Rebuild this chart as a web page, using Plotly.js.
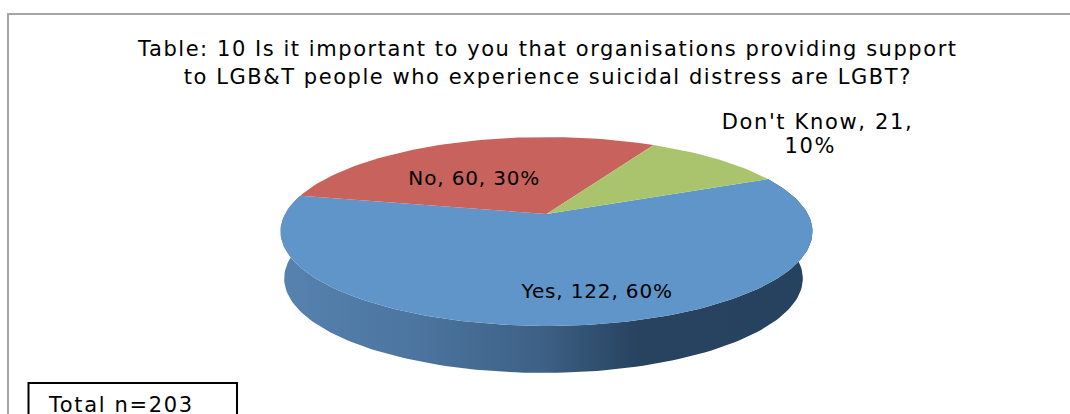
<!DOCTYPE html>
<html>
<head>
<meta charset="utf-8">
<script src="https://cdn.plot.ly/plotly-3.0.1.min.js"></script>
<style>
  html, body { margin: 0; padding: 0; background: #fff; overflow: hidden; }
  #chart { width: 1070px; height: 414px; }
  /* Open tracking for the wide chart lettering */
  #chart .gtitle { letter-spacing: 1.55px; }
  #chart .annotation text { letter-spacing: 1.65px; }
  #chart .annotation[data-index="0"] text,
  #chart .annotation[data-index="1"] text { letter-spacing: 0.85px; }
</style>
</head>
<body>
<div id="chart"></div>
<script>
// Survey responses
const categories = ["Yes", "No", "Don't Know"];
const responses = [122, 60, 21];
const topColors = ["#5F95C9", "#C8625C", "#A9C46C"];
const titleLines = [
  "Table: 10 Is it important to you that organisations providing support",
  "to LGB&T people who experience suicidal distress are LGBT?"
];

// Tilted-disc projection, in the page-sized plot coordinates
const apex = { x: 546.5, y: 214 };
const tilt = { a: 91.2, b: 261.4, k: 0.185 };
const firstAngle = 65.7;
const wall = { depth: 47, shrink: 0.975, shift: -3 };
const STEP = 1.5;

const total = responses.reduce((s, v) => s + v, 0);

function rimPoint(deg) {
  const t = deg * Math.PI / 180;
  const u = Math.sin(t), v = Math.cos(t);
  const w = 1 + tilt.k * v;
  return { x: apex.x + tilt.b * u / w, y: apex.y - tilt.a * v / w };
}

function arc(from, to) {
  const pts = [];
  const n = Math.max(2, Math.ceil((to - from) / STEP));
  for (let i = 0; i <= n; i++) pts.push(rimPoint(from + (to - from) * i / n));
  return pts;
}

// Slice spans follow from the response counts
let cursor = firstAngle;
const spans = responses.map(v => {
  const span = [cursor, cursor + v / total * 360];
  cursor = span[1];
  return span;
});

const traces = [];

// Outer wall of the front slice, shaded from left to right
const front = arc(spans[0][0], spans[0][1]);
const lower = front.slice().reverse().map(p => ({
  x: apex.x + (p.x - apex.x) * wall.shrink + wall.shift,
  y: p.y + wall.depth
}));
const wallPts = front.concat(lower);
traces.push({
  type: "scatter", mode: "lines",
  x: wallPts.map(p => p.x), y: wallPts.map(p => p.y),
  fill: "toself",
  line: { width: 0, color: "rgba(0,0,0,0)" },
  fillgradient: {
    type: "horizontal",
    start: 284, stop: 802,
    colorscale: [
      [0, "#5682B0"], [0.25, "#4C759F"], [0.5, "#3D6085"],
      [0.68, "#274360"], [1, "#26425F"]
    ]
  },
  hoverinfo: "skip"
});

// Top faces of the three slices
categories.forEach((name, i) => {
  const pts = [{ x: apex.x, y: apex.y }]
    .concat(arc(spans[i][0], spans[i][1]))
    .concat([{ x: apex.x, y: apex.y }]);
  traces.push({
    type: "scatter", mode: "lines", name,
    x: pts.map(p => p.x), y: pts.map(p => p.y),
    fill: "toself", fillcolor: topColors[i],
    line: { width: 0, color: topColors[i] },
    hoverinfo: "name"
  });
});

// Data labels: category, count, share of the total
const shares = responses.map(v => Math.round(v / total * 100));
const labelText = categories.map((c, i) => `${c}, ${responses[i]}, ${shares[i]}%`);
const label = (text, x, y, size) => ({
  text, x, y, xref: "x", yref: "y", showarrow: false,
  font: { family: "DejaVu Sans", size, color: "#000" },
  align: "center", xanchor: "center", yanchor: "middle"
});

const layout = {
  width: 1070, height: 414,
  margin: { l: 0, r: 0, t: 0, b: 0 },
  paper_bgcolor: "#fff", plot_bgcolor: "#fff",
  showlegend: false,
  title: {
    text: titleLines.join("<br>"),
    font: { family: "DejaVu Sans", size: 21, color: "#000" },
    xref: "paper", yref: "paper", x: 0.512, xanchor: "center",
    y: 0.864, yanchor: "top"
  },
  xaxis: { range: [0, 1070], visible: false, fixedrange: true },
  yaxis: { range: [414, 0], visible: false, fixedrange: true },
  shapes: [
    { type: "rect", xref: "x", yref: "y", x0: 8, y0: 14, x1: 1090, y1: 430,
      line: { color: "#A6A6A6", width: 2 }, fillcolor: "rgba(0,0,0,0)", layer: "below" },
    { type: "rect", xref: "x", yref: "y", x0: 28.5, y0: 383, x1: 237, y1: 430,
      line: { color: "#000", width: 2 }, fillcolor: "#fff", layer: "above" }
  ],
  annotations: [
    label(labelText[0], 596, 291, 20),
    label(labelText[1], 474, 178, 20),
    label(`${categories[2]}, ${responses[2]},`, 817, 122, 21),
    label(`${shares[2]}%`, 810, 146, 21),
    label("Total n=" + total, 120.5, 405, 21)
  ]
};

Plotly.newPlot("chart", traces, layout, { displayModeBar: false, responsive: false });
</script>
</body>
</html>
